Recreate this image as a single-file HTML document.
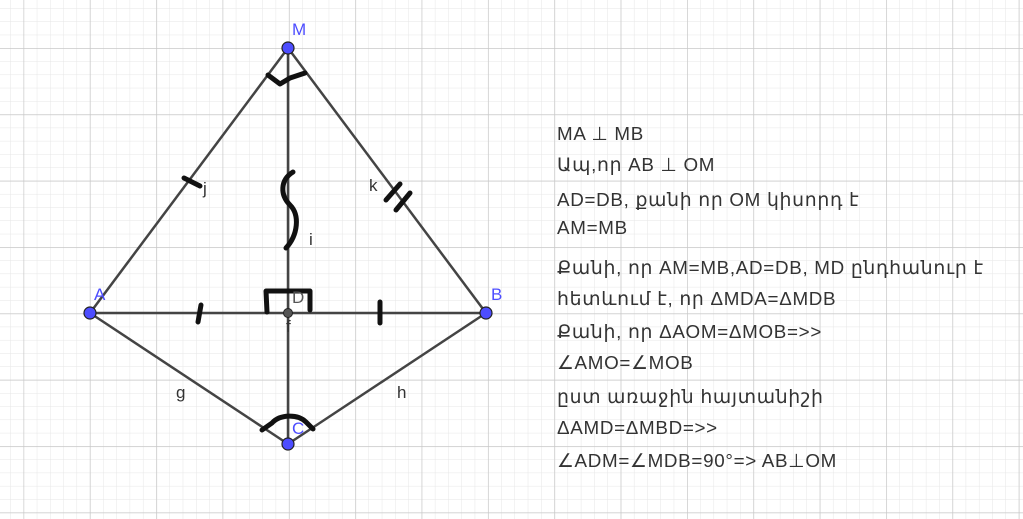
<!DOCTYPE html>
<html><head><meta charset="utf-8"><style>
html,body{margin:0;padding:0;background:#fff}
svg{display:block}
</style></head><body>
<svg width="1023" height="519" viewBox="0 0 1023 519" xmlns="http://www.w3.org/2000/svg">
<defs>
<pattern id="minor" x="23.5" y="48" width="13.27" height="13.27" patternUnits="userSpaceOnUse">
<path d="M0 0V13.27M0 0H13.27" stroke="#e6e6e6" stroke-width="1" fill="none"/>
</pattern>
<pattern id="major" x="23.5" y="48" width="66.35" height="66.35" patternUnits="userSpaceOnUse">
<path d="M0 0V66.35M0 0H66.35" stroke="#c8c8c8" stroke-width="1.4" fill="none"/>
</pattern>
</defs>
<rect width="1023" height="519" fill="url(#minor)"/>
<rect width="1023" height="519" fill="url(#major)"/>
<g stroke="#444" stroke-width="2.5" fill="none">
<line x1="288" y1="48" x2="90" y2="313"/>
<line x1="288" y1="48" x2="486" y2="313"/>
<line x1="90" y1="313" x2="486" y2="313"/>
<line x1="288" y1="48" x2="288" y2="444"/>
<line x1="90" y1="313" x2="288" y2="444"/>
<line x1="486" y1="313" x2="288" y2="444"/>
</g>
<g stroke="#111" stroke-width="5" fill="none" stroke-linecap="round" stroke-linejoin="round">
<path d="M268 75 L280 84 L290 78 L305 73"/>
<path d="M184 178 L200 186"/>
<path d="M386 200 L400 184 M396 210 L410 193"/>
<path d="M293 172 C280 180 280 195 290 205 C300 215 298 235 286 248"/>
<path d="M267 312 L266 291 L310 291 L310 310"/>
<path d="M201 305 L198 322"/>
<path d="M380 302 L380 323"/>
<path d="M262 430 L272 423 C280 414 298 414 306 422 L313 429"/>
</g>
<g fill="#4d4dff" stroke="#222" stroke-width="1.2">
<circle cx="288" cy="48" r="6"/>
<circle cx="90" cy="313" r="6"/>
<circle cx="486" cy="313" r="6"/>
<circle cx="288" cy="444" r="6"/>
</g>
<circle cx="288" cy="313" r="4.5" fill="#555" stroke="#222"/>
<g font-family="Liberation Sans, DejaVu Sans, sans-serif" font-size="17">
<text x="292" y="35" fill="#4d4dff">M</text>
<text x="94" y="300" fill="#4d4dff">A</text>
<text x="491" y="300" fill="#4d4dff">B</text>
<text x="292" y="434" fill="#4d4dff">C</text>
<text x="292" y="303" fill="#555">D</text>
<text x="286" y="332" fill="#333">f</text>
<text x="203" y="194" fill="#333">j</text>
<text x="369" y="191" fill="#333">k</text>
<text x="309" y="245" fill="#333">i</text>
<text x="176" y="398" fill="#333">g</text>
<text x="397" y="398" fill="#333">h</text>
</g>
<g font-family="Liberation Sans, DejaVu Sans, sans-serif" font-size="18.8" fill="#333" letter-spacing="0.7">
<text x="557" y="140">MA ⊥ MB</text>
<text x="557" y="171">Ապ,որ AB ⊥ OM</text>
<text x="557" y="206">AD=DB, քանի որ OM կիսորդ է</text>
<text x="557" y="234">AM=MB</text>
<text x="557" y="274">Քանի, որ AM=MB,AD=DB, MD ընդհանուր է</text>
<text x="557" y="305">հետևում է, որ ΔMDA=ΔMDB</text>
<text x="557" y="338">Քանի, որ ΔAOM=ΔMOB=&gt;&gt;</text>
<text x="557" y="369">∠AMO=∠MOB</text>
<text x="557" y="403">ըստ առաջին հայտանիշի</text>
<text x="557" y="434">ΔAMD=ΔMBD=&gt;&gt;</text>
<text x="557" y="467">∠ADM=∠MDB=90°=&gt; AB⊥OM</text>
</g>
</svg>
</body></html>
